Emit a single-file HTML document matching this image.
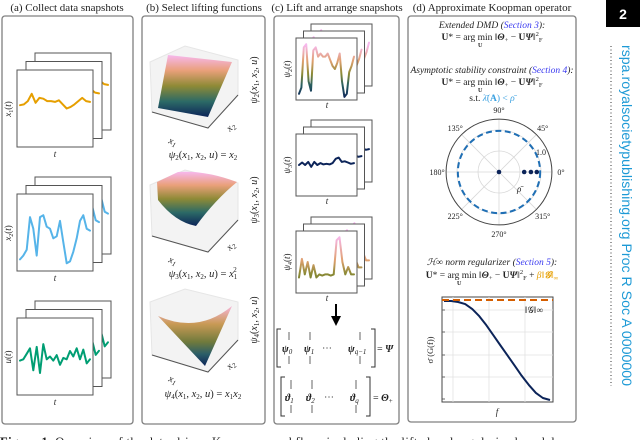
<!DOCTYPE html>
<html><head><meta charset="utf-8"><style>
html,body{margin:0;padding:0;background:#fff;}
svg{display:block;}
.t{font-family:"Liberation Serif",serif;fill:#222;}
.i{font-style:italic;}
</style></head><body>
<svg id="fig" width="640" height="440" viewBox="0 0 640 440" xmlns="http://www.w3.org/2000/svg">
<defs>
  <linearGradient id="cmapV" x1="0" y1="0" x2="0" y2="1">
    <stop offset="0" stop-color="#f7b8ee"/><stop offset="0.25" stop-color="#e9a07a"/>
    <stop offset="0.5" stop-color="#8e8a36"/><stop offset="0.75" stop-color="#2c6a66"/>
    <stop offset="1" stop-color="#0c2459"/>
  </linearGradient>
  <linearGradient id="saddleG" x1="0" y1="0" x2="0" y2="1">
    <stop offset="0" stop-color="#f6b4d8"/><stop offset="0.3" stop-color="#c99a55"/>
    <stop offset="0.6" stop-color="#707a3c"/><stop offset="0.8" stop-color="#2b5e68"/>
    <stop offset="1" stop-color="#0c2459"/>
  </linearGradient>
</defs>

<text class="t" x="67" y="11" font-size="11" text-anchor="middle">(a) Collect data snapshots</text>
<text class="t" x="204" y="11" font-size="11" text-anchor="middle">(b) Select lifting functions</text>
<text class="t" x="337" y="11" font-size="11" text-anchor="middle">(c) Lift and arrange snapshots</text>
<text class="t" x="492" y="11" font-size="11" text-anchor="middle">(d) Approximate Koopman operator</text>

<rect x="2" y="16" width="131" height="408" rx="3" fill="#fff" stroke="#808080" stroke-width="1.3"/>
<rect x="142" y="16" width="123" height="408" rx="3" fill="#fff" stroke="#808080" stroke-width="1.3"/>
<rect x="274" y="16" width="125" height="408" rx="3" fill="#fff" stroke="#808080" stroke-width="1.3"/>
<rect x="408" y="16" width="168" height="406" rx="3" fill="#fff" stroke="#808080" stroke-width="1.3"/>

<g id="gA"></g>
<g id="gC"></g>

<g>
  <polygon points="150,62 185,46 238,60 238,95 208,128 152,112" fill="#f3f3f3" stroke="#e6e6e6"/>
  <polyline points="152,112 208,128 238,95" fill="none" stroke="#555" stroke-width="1"/>
  <polygon points="168,55 232,62 208,117 158,108" fill="url(#cmapV)"/>
  <text class="t i" x="168" y="143" font-size="10" transform="rotate(20 168 143)">x<tspan font-size="7" dy="2">1</tspan></text>
  <text class="t i" x="230" y="132" font-size="10" transform="rotate(-45 230 132)">x<tspan font-size="7" dy="2">2</tspan></text>
  <text class="t" x="257" y="80" font-size="10" text-anchor="middle" transform="rotate(-90 257 80)"><tspan class="i">ψ</tspan><tspan font-size="7" dy="2">2</tspan><tspan dy="-2">(</tspan><tspan class="i">x</tspan><tspan font-size="7" dy="2">1</tspan><tspan dy="-2">, </tspan><tspan class="i">x</tspan><tspan font-size="7" dy="2">2</tspan><tspan dy="-2">, </tspan><tspan class="i">u</tspan>)</text>
  <text class="t" x="203" y="158" font-size="10.5" text-anchor="middle"><tspan class="i">ψ</tspan><tspan font-size="7" dy="2">2</tspan><tspan dy="-2">(</tspan><tspan class="i">x</tspan><tspan font-size="7" dy="2">1</tspan><tspan dy="-2">, </tspan><tspan class="i">x</tspan><tspan font-size="7" dy="2">2</tspan><tspan dy="-2">, </tspan><tspan class="i">u</tspan>) = <tspan class="i">x</tspan><tspan font-size="7" dy="2">2</tspan></text>
</g>
<g>
  <polygon points="150,185 185,170 238,183 238,220 208,252 152,236" fill="#f3f3f3" stroke="#e6e6e6"/>
  <polyline points="152,236 208,252 238,220" fill="none" stroke="#555" stroke-width="1"/>
  <path d="M157,182 L178,172 Q205,170 237,182 Q215,200 196,226 Q175,222 158,200 Z" fill="url(#cmapV)"/>
  <text class="t i" x="168" y="262" font-size="10" transform="rotate(20 168 262)">x<tspan font-size="7" dy="2">1</tspan></text>
  <text class="t i" x="230" y="251" font-size="10" transform="rotate(-45 230 251)">x<tspan font-size="7" dy="2">2</tspan></text>
  <text class="t" x="257" y="200" font-size="10" text-anchor="middle" transform="rotate(-90 257 200)"><tspan class="i">ψ</tspan><tspan font-size="7" dy="2">3</tspan><tspan dy="-2">(</tspan><tspan class="i">x</tspan><tspan font-size="7" dy="2">1</tspan><tspan dy="-2">, </tspan><tspan class="i">x</tspan><tspan font-size="7" dy="2">2</tspan><tspan dy="-2">, </tspan><tspan class="i">u</tspan>)</text>
  <text class="t" x="203" y="277" font-size="10.5" text-anchor="middle"><tspan class="i">ψ</tspan><tspan font-size="7" dy="2">3</tspan><tspan dy="-2">(</tspan><tspan class="i">x</tspan><tspan font-size="7" dy="2">1</tspan><tspan dy="-2">, </tspan><tspan class="i">x</tspan><tspan font-size="7" dy="2">2</tspan><tspan dy="-2">, </tspan><tspan class="i">u</tspan>) = <tspan class="i">x</tspan><tspan font-size="7" dy="2">1</tspan><tspan font-size="7" dx="-4" dy="-7">2</tspan></text>
</g>
<g>
  <polygon points="150,302 185,289 238,302 238,340 208,372 152,355" fill="#f3f3f3" stroke="#e6e6e6"/>
  <polyline points="152,355 208,372 238,340" fill="none" stroke="#555" stroke-width="1"/>
  <path d="M158,316 Q198,334 232,306 L205,366 Z" fill="url(#saddleG)"/>
  <text class="t i" x="168" y="381" font-size="10" transform="rotate(20 168 381)">x<tspan font-size="7" dy="2">1</tspan></text>
  <text class="t i" x="230" y="370" font-size="10" transform="rotate(-45 230 370)">x<tspan font-size="7" dy="2">2</tspan></text>
  <text class="t" x="257" y="320" font-size="10" text-anchor="middle" transform="rotate(-90 257 320)"><tspan class="i">ψ</tspan><tspan font-size="7" dy="2">4</tspan><tspan dy="-2">(</tspan><tspan class="i">x</tspan><tspan font-size="7" dy="2">1</tspan><tspan dy="-2">, </tspan><tspan class="i">x</tspan><tspan font-size="7" dy="2">2</tspan><tspan dy="-2">, </tspan><tspan class="i">u</tspan>)</text>
  <text class="t" x="203" y="397" font-size="10.5" text-anchor="middle"><tspan class="i">ψ</tspan><tspan font-size="7" dy="2">4</tspan><tspan dy="-2">(</tspan><tspan class="i">x</tspan><tspan font-size="7" dy="2">1</tspan><tspan dy="-2">, </tspan><tspan class="i">x</tspan><tspan font-size="7" dy="2">2</tspan><tspan dy="-2">, </tspan><tspan class="i">u</tspan>) = <tspan class="i">x</tspan><tspan font-size="7" dy="2">1</tspan><tspan class="i" dy="-2">x</tspan><tspan font-size="7" dy="2">2</tspan></text>
</g>

<g>
  <line x1="336" y1="304" x2="336" y2="318" stroke="#000" stroke-width="2"/>
  <polygon points="331,316 341,316 336,326" fill="#000"/>
</g>
<g font-size="10">
  <path d="M281,329 L277,329 L277,367 L281,367" fill="none" stroke="#333"/>
  <path d="M371,329 L375,329 L375,367 L371,367" fill="none" stroke="#333"/>
  <g stroke="#666"><line x1="289" y1="332" x2="289" y2="340"/><line x1="289" y1="356" x2="289" y2="364"/>
  <line x1="310" y1="332" x2="310" y2="340"/><line x1="310" y1="356" x2="310" y2="364"/>
  <line x1="360" y1="332" x2="360" y2="340"/><line x1="360" y1="356" x2="360" y2="364"/></g>
  <text class="t" x="282" y="352" font-weight="bold" font-style="italic">ψ<tspan font-size="7" dy="2" font-weight="normal">0</tspan></text>
  <text class="t" x="304" y="352" font-weight="bold" font-style="italic">ψ<tspan font-size="7" dy="2" font-weight="normal">1</tspan></text>
  <text class="t" x="322" y="351">⋯</text>
  <text class="t" x="348" y="352" font-weight="bold" font-style="italic">ψ<tspan font-size="7" dy="2" font-weight="normal" font-style="italic">q−1</tspan></text>
  <text class="t" x="377" y="352">= <tspan font-weight="bold" font-style="italic">Ψ</tspan></text>
</g>
<g font-size="10">
  <path d="M285,377 L281,377 L281,416 L285,416" fill="none" stroke="#333"/>
  <path d="M366,377 L370,377 L370,416 L366,416" fill="none" stroke="#333"/>
  <g stroke="#666"><line x1="291" y1="380" x2="291" y2="389"/><line x1="291" y1="405" x2="291" y2="413"/>
  <line x1="312" y1="380" x2="312" y2="389"/><line x1="312" y1="405" x2="312" y2="413"/>
  <line x1="356" y1="380" x2="356" y2="389"/><line x1="356" y1="405" x2="356" y2="413"/></g>
  <text class="t" x="285" y="401" font-weight="bold" font-style="italic">ϑ<tspan font-size="7" dy="2" font-weight="normal">1</tspan></text>
  <text class="t" x="306" y="401" font-weight="bold" font-style="italic">ϑ<tspan font-size="7" dy="2" font-weight="normal">2</tspan></text>
  <text class="t" x="324" y="400">⋯</text>
  <text class="t" x="350" y="401" font-weight="bold" font-style="italic">ϑ<tspan font-size="7" dy="2" font-weight="normal" font-style="italic">q</tspan></text>
  <text class="t" x="373" y="401">= <tspan font-weight="bold" font-style="italic">Θ</tspan><tspan font-size="7" dy="2">+</tspan></text>
</g>

<text class="t" x="492" y="28" font-size="9.5" text-anchor="middle"><tspan class="i">Extended DMD (</tspan><tspan class="i" fill="#3a3af0">Section 3</tspan><tspan class="i">):</tspan></text>
<text class="t" x="492" y="40" font-size="9.5" text-anchor="middle"><tspan font-weight="bold">U</tspan>* = arg min ‖<tspan font-weight="bold" font-style="italic">Θ</tspan><tspan font-size="6.5" dy="2">+</tspan><tspan dy="-2"> − </tspan><tspan font-weight="bold">U</tspan><tspan font-weight="bold" font-style="italic">Ψ</tspan>‖<tspan font-size="6.5" dy="-4">2</tspan><tspan font-size="6.5" dy="6">F</tspan></text>
<text class="t" x="478" y="47" font-size="6" font-weight="bold">U</text>
<text class="t" x="492" y="73" font-size="9.5" text-anchor="middle"><tspan class="i">Asymptotic stability constraint (</tspan><tspan class="i" fill="#3a3af0">Section 4</tspan><tspan class="i">):</tspan></text>
<text class="t" x="492" y="85" font-size="9.5" text-anchor="middle"><tspan font-weight="bold">U</tspan>* = arg min ‖<tspan font-weight="bold" font-style="italic">Θ</tspan><tspan font-size="6.5" dy="2">+</tspan><tspan dy="-2"> − </tspan><tspan font-weight="bold">U</tspan><tspan font-weight="bold" font-style="italic">Ψ</tspan>‖<tspan font-size="6.5" dy="-4">2</tspan><tspan font-size="6.5" dy="6">F</tspan></text>
<text class="t" x="478" y="92" font-size="6" font-weight="bold">U</text>
<text class="t" x="492" y="101" font-size="9.5" text-anchor="middle">s.t. <tspan fill="#3aa0e0" class="i">λ̄</tspan><tspan fill="#3aa0e0">(<tspan font-weight="bold">A</tspan>) &lt; </tspan><tspan fill="#3aa0e0" class="i">ρ̄</tspan></text>

<g id="gPolar"></g>

<text class="t" x="492" y="265" font-size="9.5" text-anchor="middle"><tspan class="i">ℋ∞ norm regularizer (</tspan><tspan class="i" fill="#3a3af0">Section 5</tspan><tspan class="i">):</tspan></text>
<text class="t" x="492" y="278" font-size="9.5" text-anchor="middle"><tspan font-weight="bold">U</tspan>* = arg min ‖<tspan font-weight="bold" font-style="italic">Θ</tspan><tspan font-size="6.5" dy="2">+</tspan><tspan dy="-2"> − </tspan><tspan font-weight="bold">U</tspan><tspan font-weight="bold" font-style="italic">Ψ</tspan>‖<tspan font-size="6.5" dy="-4">2</tspan><tspan font-size="6.5" dy="6">F</tspan><tspan dy="-2"> + </tspan><tspan fill="#e69f00" class="i">β</tspan><tspan fill="#e69f00">‖<tspan font-weight="bold" font-style="italic">𝒢</tspan>‖<tspan font-size="6.5" dy="2">∞</tspan></tspan></text>
<text class="t" x="457" y="285" font-size="6" font-weight="bold">U</text>

<g id="gHinf"></g>

<text x="0" y="446" font-family="Liberation Serif, serif" font-size="12.5" fill="#222" textLength="560"><tspan font-weight="bold">Figure 1.</tspan> Overview of the data-driven Koopman workflow, including the lifted and regularized models</text>

<rect x="606" y="0" width="34" height="27" fill="#000"/>
<text x="623" y="19" font-family="Liberation Sans, sans-serif" font-weight="bold" font-size="14" fill="#fff" text-anchor="middle">2</text>
<line x1="611" y1="46" x2="611" y2="386" stroke="#333" stroke-width="1" stroke-dasharray="1,2.5"/>
<text x="0" y="0" font-family="Liberation Sans, sans-serif" font-size="14" fill="#1e9ad6" transform="translate(622,45) rotate(90)" textLength="341" lengthAdjust="spacingAndGlyphs">rspa.royalsocietypublishing.org  Proc R Soc A 0000000</text>
</svg>

<script>
const x1Series = [0.05,0.1,0.3,0.75,0.2,0.5,0.45,0.3,0.3,0.25,0.35,0.1,-0.15,-0.05,0.1,0.3,0.5,0.3,0.25];
const x2Series = [-1.4,-1.2,-0.9,0.8,0.2,-1.2,0.8,0.9,0.3,0.2,-0.3,-0.2,0.6,-0.5,-1.6,-1.5,-1.0,-0.3,0.6,0.9,0.2,0.1];
const uSeries = [-0.3,-0.2,0.2,0.6,-1.0,0.7,-1.2,0.9,-0.2,0.0,-0.3,0.1,-0.6,-0.1,-0.2,0.4,0.0,0.6,-0.2,0.5,-0.5,-0.2];
const psi2Series = [0.1,0.2,0.85,0.9,0.3,0.15,0.8,0.85,0.7,0.75,0.7,0.7,0.75,0.65,0.55,0.5,0.6,0.75,0.3,0.05,0.1,0.45,0.55,0.7];
const psi3Series = [0.5,0.54,0.5,0.55,0.47,0.55,0.5,0.53,0.51,0.52,0.51,0.53,0.6,0.62,0.55,0.56,0.54,0.52,0.53];
const psi4Series = [0.25,0.55,0.3,0.5,0.25,0.45,0.25,0.3,0.28,0.3,0.3,0.28,0.3,0.85,0.9,0.5,0.3,0.42,0.3,0.3];
const eigRadius = [0.0,0.6,0.76,0.9];
const eigAngleDeg = [0,0,0,0];
const rhoBar = 0.98;
const polarAngleLabels = ["0°","45°","90°","135°","180°","225°","270°","315°"];
const freqIndex = [0,1,2,3,4,5,6,7,8,9,10,11,12,13,14,15];
const sigmaValues = [0.98,0.98,0.97,0.95,0.9,0.83,0.74,0.64,0.54,0.44,0.34,0.24,0.15,0.07,0.02,0.0];
const hinfNorm = 0.99;

const NS = "http://www.w3.org/2000/svg";
function mk(parent, tag, attrs){ const e=document.createElementNS(NS,tag); for(const k in attrs) e.setAttribute(k,attrs[k]); parent.appendChild(e); return e; }

function box(g,x,y,w,h){
  const r = mk(g,'rect',{x:x,y:y,width:w,height:h,fill:'#fff',stroke:'#555','stroke-width':1});
  
  
  return r;
}
function series(g,x,y,w,h,vals,lo,hi,stroke,sw){
  const sx = i => x+3 + i*(w-6)/(vals.length-1);
  const sy = v => y+h - (v-lo)/(hi-lo)*h;
  let d='';
  vals.forEach((v,i)=>{ d += (i?' L':'M')+sx(i).toFixed(1)+','+sy(v).toFixed(1); });
  const p = mk(g,'path',{d:d,fill:'none',stroke:stroke,'stroke-width':sw,'stroke-linejoin':'round','stroke-linecap':'round'});
  
  
}
function gradStroke(id,y0,y1,stops){
  const defs=document.querySelector('defs');
  const lg=mk(defs,'linearGradient',{id:id,gradientUnits:'userSpaceOnUse',x1:0,y1:y0,x2:0,y2:y1});
  stops.forEach(s=>mk(lg,'stop',{offset:s[0],'stop-color':s[1]}));
  return 'url(#'+id+')';
}
function label(g,x,y,txt,sub,rot,size){
  const t=mk(g,'text',{x:x,y:y,'font-size':size||9,'text-anchor':'middle','class':'t'});
  if(rot) t.setAttribute('transform','rotate(-90 '+x+' '+y+')');
  
  
  const a=mk(t,'tspan',{'class':'i'}); a.textContent=txt;
  if(sub){ const b=mk(t,'tspan',{'font-size':6,dy:2}); b.textContent=sub; const c=mk(t,'tspan',{dy:-2}); c.textContent='('; const d=mk(t,'tspan',{'class':'i'}); d.textContent='t'; const e=mk(t,'tspan',{}); e.textContent=')'; }
  else if(rot){ const c=mk(t,'tspan',{}); c.textContent='('; const d=mk(t,'tspan',{'class':'i'}); d.textContent='t'; const e=mk(t,'tspan',{}); e.textContent=')'; }
}

const gA=document.getElementById('gA');
const aStacks=[{y:70,vals:x1Series,col:'#e69f00',lo:-2.5,hi:2.2,name:'x',sub:'1'},
               {y:194,vals:x2Series,col:'#56b4e9',lo:-2,hi:2,name:'x',sub:'2'},
               {y:318,vals:uSeries,col:'#009e73',lo:-2.8,hi:2.8,name:'u',sub:''}];
aStacks.forEach(s=>{
  for(let k=2;k>=0;k--){
    const bx=17+9*k, by=s.y-8.5*k;
    box(gA,bx,by,76,77);
    series(gA,bx,by,76,77,s.vals,s.lo,s.hi,s.col,2);
  }
  label(gA,55,s.y+87,'t','',false,9);
  label(gA,11,s.y+39,s.name,s.sub,true,9);
});

const gC=document.getElementById('gC');
const g2=gradStroke('psi2g',45,98,[[0,'#f7b8ee'],[0.3,'#e0a070'],[0.55,'#8a8a35'],[0.75,'#2a6060'],[1,'#0c2459']]);
const g4=gradStroke('psi4g',236,290,[[0,'#f7b8ee'],[0.45,'#e0a070'],[0.7,'#8a8a35'],[1,'#6a7030']]);
const cStacks=[{y:38,vals:psi2Series,col:g2,sub:'2'},{y:134,vals:psi3Series,col:'#0c2459',sub:'3'},{y:231,vals:psi4Series,col:g4,sub:'4'}];
cStacks.forEach(s=>{
  for(let k=2;k>=0;k--){
    const bx=296+7.5*k, by=s.y-7*k;
    box(gC,bx,by,61,62);
    series(gC,bx,by,61,62,s.vals,0,1,s.col,2);
  }
  label(gC,327,s.y+70,'t','',false,9);
  label(gC,290,s.y+31,'ψ',s.sub,true,9);
});

const gP=document.getElementById('gPolar');
const pcx=499, pcy=172, pscale=42, pOuter=1.26;
[0.5,1.0].forEach(r=>mk(gP,'circle',{cx:pcx,cy:pcy,r:r*pscale,fill:'none',stroke:'#d8d8d8','stroke-width':0.8}));
for(let a=0;a<360;a+=45){
  const rad=a*Math.PI/180;
  mk(gP,'line',{x1:pcx,y1:pcy,x2:pcx+pOuter*pscale*Math.cos(rad),y2:pcy-pOuter*pscale*Math.sin(rad),stroke:'#d8d8d8','stroke-width':0.8});
}
mk(gP,'circle',{cx:pcx,cy:pcy,r:pOuter*pscale,fill:'none',stroke:'#444','stroke-width':1});
const dc=mk(gP,'circle',{cx:pcx,cy:pcy,r:rhoBar*pscale,fill:'none',stroke:'#1f6fb5','stroke-width':2,'stroke-dasharray':'6,3.5'});


polarAngleLabels.forEach((lab,i)=>{
  const rad=i*45*Math.PI/180, rr=pOuter*pscale+9;
  const t=mk(gP,'text',{x:pcx+rr*Math.cos(rad),y:pcy-rr*Math.sin(rad)+3,'font-size':8,'text-anchor':'middle','class':'t',fill:'#444'});
  
  
  t.textContent=lab;
});
const rl=mk(gP,'text',{x:pcx+37,y:pcy-17,'font-size':8,'class':'t',fill:'#444'});


rl.textContent='1.0';
const rb=mk(gP,'text',{x:pcx+18,y:pcy+20,'font-size':9,'class':'t i',fill:'#3aa0e0'});


rb.textContent='ρ̄';
eigRadius.forEach((r,i)=>{
  const rad=eigAngleDeg[i]*Math.PI/180;
  const c=mk(gP,'circle',{cx:pcx+r*pscale*Math.cos(rad),cy:pcy-r*pscale*Math.sin(rad),r:2.3,fill:'#0c2459'});
  
  
});

const gH=document.getElementById('gHinf');
const hx0=442,hx1=553,hy0=297,hy1=402;
const fx=i=>hx0+2+ i*(hx1-hx0-5)/(freqIndex.length-1);
const sy=v=>hy1-2 - v*(hy1-hy0-4);
mk(gH,'rect',{x:hx0,y:hy0,width:hx1-hx0,height:hy1-hy0,fill:'#fff',stroke:'#444','stroke-width':1});
[453,489,525].forEach(x=>mk(gH,'line',{x1:x,y1:hy0,x2:x,y2:hy1,stroke:'#e2e2e2','stroke-width':0.8}));
[310,332,355,377].forEach(y=>mk(gH,'line',{x1:hx0,y1:y,x2:hx1,y2:y,stroke:'#e2e2e2','stroke-width':0.8}));
[310,332,355,377,399].forEach(y=>mk(gH,'line',{x1:hx0,y1:y,x2:hx0+3,y2:y,stroke:'#444','stroke-width':0.8}));
let d='';
freqIndex.forEach((f,i)=>{ d+=(i?' L':'M')+fx(f).toFixed(1)+','+sy(sigmaValues[i]).toFixed(1); });
const cur=mk(gH,'path',{d:d,fill:'none',stroke:'#0c2459','stroke-width':2,'stroke-linejoin':'round'});


const hl=mk(gH,'line',{x1:hx0,y1:sy(hinfNorm),x2:hx1,y2:sy(hinfNorm),stroke:'#d55e00','stroke-width':2,'stroke-dasharray':'7,4'});


const hn=mk(gH,'text',{x:525,y:313,'font-size':9,'class':'t',fill:'#e69f00'});


hn.textContent='‖𝒢‖∞';
const yl=mk(gH,'text',{x:433,y:350,'font-size':8.5,'class':'t','text-anchor':'middle',transform:'rotate(-90 433 350)'});


yl.textContent='σ̄ (G(f))';
const xl=mk(gH,'text',{x:497,y:415,'font-size':9,'class':'t i','text-anchor':'middle'});


xl.textContent='f';
</script>
</body></html>
